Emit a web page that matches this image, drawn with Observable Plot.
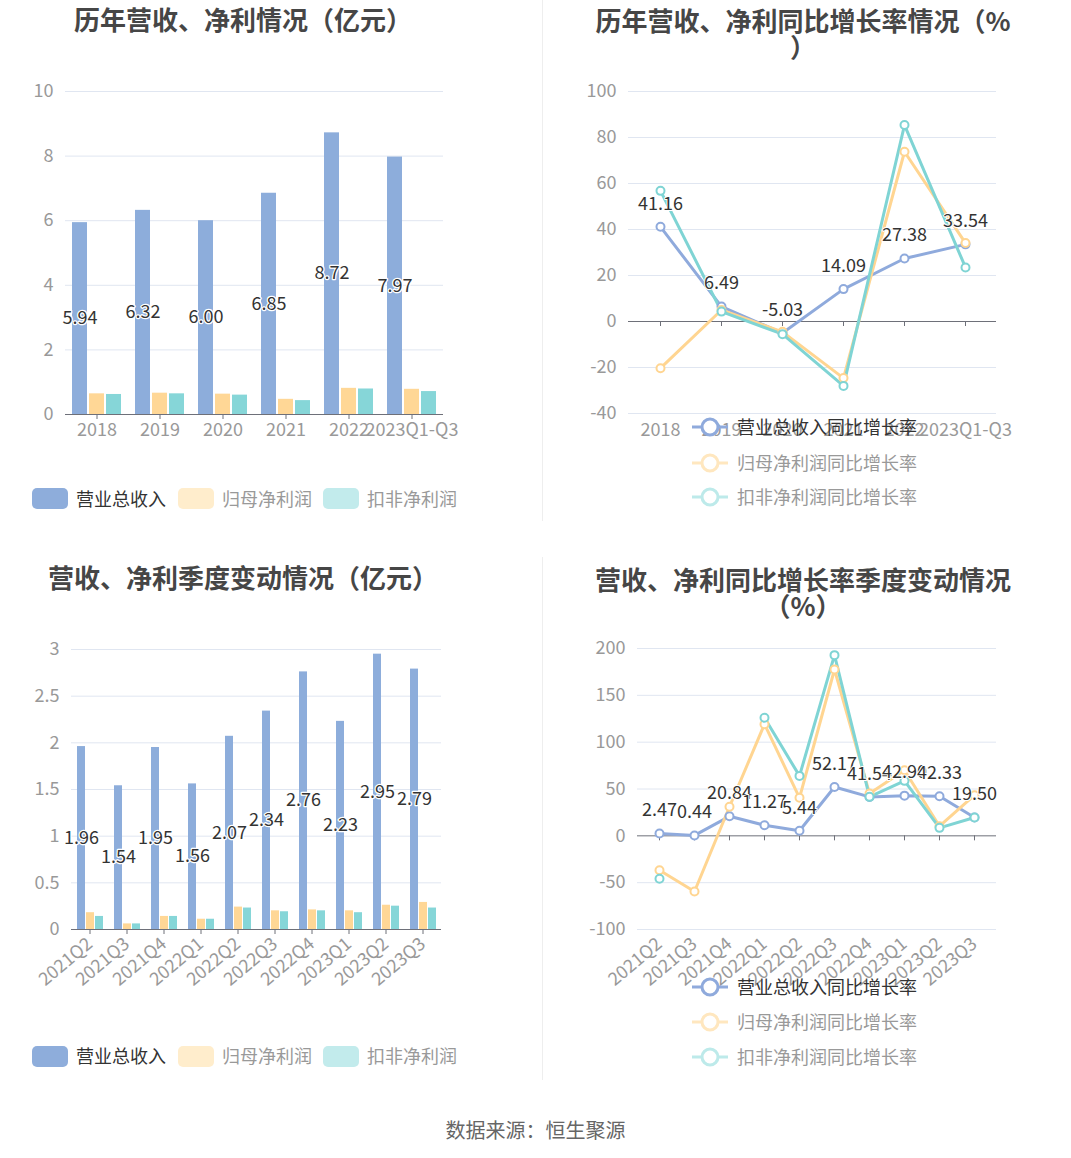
<!DOCTYPE html>
<html><head><meta charset="utf-8">
<script src="https://cdn.jsdelivr.net/npm/d3@7"></script>
<script src="https://cdn.jsdelivr.net/npm/@observablehq/plot@0.6"></script>
<style>
body{margin:0;background:#fff;font-family:'Noto Sans CJK SC','Noto Sans',sans-serif;}
#root{position:relative;width:1071px;height:1158px;overflow:hidden;background:#fff;}
.panel{position:absolute;}
.title{position:absolute;text-align:center;font-weight:bold;font-size:26px;color:#464646;line-height:26px;white-space:nowrap;}
.sep{position:absolute;width:1px;background:#eeeeee;}
.lg{position:absolute;font-size:18px;line-height:20px;white-space:nowrap;}
.foot{position:absolute;left:0;width:1071px;text-align:center;top:1115px;font-size:20px;color:#666;}
</style></head><body><div id="root"></div>
<script>
// ---------- data ----------
const years = ["2018", "2019", "2020", "2021", "2022", "2023Q1-Q3"];
const yearRevenue = [5.94, 6.32, 6.00, 6.85, 8.72, 7.97];
const yearNetProfit = [0.64, 0.66, 0.63, 0.47, 0.81, 0.78];
const yearDeductedProfit = [0.62, 0.64, 0.60, 0.43, 0.79, 0.71];
const yearRevenueGrowth = [41.16, 6.49, -5.03, 14.09, 27.38, 33.54];
const yearNetProfitGrowth = [-20.3, 5.0, -4.5, -24.6, 73.8, 34.1];
const yearDeductedGrowth = [56.8, 4.3, -5.5, -28.0, 85.4, 23.5];

const quarters = ["2021Q2", "2021Q3", "2021Q4", "2022Q1", "2022Q2", "2022Q3", "2022Q4", "2023Q1", "2023Q2", "2023Q3"];
const qRevenue = [1.96, 1.54, 1.95, 1.56, 2.07, 2.34, 2.76, 2.23, 2.95, 2.79];
const qNetProfit = [0.18, 0.06, 0.14, 0.11, 0.24, 0.20, 0.21, 0.20, 0.26, 0.29];
const qDeductedProfit = [0.14, 0.06, 0.14, 0.11, 0.23, 0.19, 0.20, 0.18, 0.25, 0.23];
const qRevenueGrowth = [2.47, 0.44, 20.84, 11.27, 5.44, 52.17, 41.54, 42.90, 42.33, 19.50];
const qNetProfitGrowth = [-36.7, -59.4, 31.0, 119.2, 40.6, 177.6, 45.2, 70.1, 10.3, 43.4];
const qDeductedGrowth = [-45.9, null, null, 126.0, 64.0, 192.9, 41.6, 58.7, 8.5, 19.6];

const barSeries = ["营业总收入", "归母净利润", "扣非净利润"];
const lineSeries = ["营业总收入同比增长率", "归母净利润同比增长率", "扣非净利润同比增长率"];
const yearTicks = [0, 2, 4, 6, 8, 10];
const yearGrowthTicks = [-40, -20, 0, 20, 40, 60, 80, 100];
const qTicks = [0, 0.5, 1, 1.5, 2, 2.5, 3];
const qGrowthTicks = [-100, -50, 0, 50, 100, 150, 200];

const titles = ["历年营收、净利情况（亿元）", ["历年营收、净利同比增长率情况（%", "）"],
  "营收、净利季度变动情况（亿元）", ["营收、净利同比增长率季度变动情况", "（%）"]];
const source = "数据来源：恒生聚源";

// ---------- style ----------
const barColors = ["#8DADDB", "#FFD796", "#86D6D8"];
const lineColors = ["#8FAADC", "#FFD591", "#7FD4D4"];
const legendRectColors = ["#8EADDB", "#FFEDCC", "#C2EBEC"];
const legendLineColors = ["#8FAADC", "#FFE7BF", "#BDEAEA"];
const legendTextColors = ["#333", "#999", "#999"];
const FONT = "'Noto Sans CJK SC','Noto Sans',sans-serif";
const root = document.getElementById("root");

function place(el, left, top) {
  el.style.position = "absolute"; el.style.left = left + "px"; el.style.top = top + "px";
  root.appendChild(el);
}

function barPanel(o) {
  const data = o.cats.flatMap((c, i) => [
    {c, s: barSeries[0], v: o.a[i]}, {c, s: barSeries[1], v: o.b[i]}, {c, s: barSeries[2], v: o.c[i]}]);
  return Plot.plot({
    width: 540, height: 400,
    marginLeft: o.ml, marginRight: o.mr, marginTop: o.mt, marginBottom: o.mb,
    style: {fontFamily: FONT, fontSize: "18px", background: "transparent", overflow: "visible"},
    fx: {domain: o.cats, padding: 0, axis: null, label: null},
    x: {domain: barSeries, paddingInner: o.pIn, paddingOuter: o.pOut, axis: null},
    y: {domain: [o.ticks[0], o.ticks[o.ticks.length - 1]], axis: null},
    color: {domain: barSeries, range: barColors},
    marks: [
      Plot.ruleY(o.ticks.filter(t => t !== 0), {stroke: "#E0E6F1"}),
      Plot.barY(data, {fx: "c", x: "s", y: "v", fill: "s"}),
      Plot.ruleY([0], {stroke: "#6E7079"}),
      Plot.axisY({ticks: o.ticks, tickSize: 0, tickPadding: 12, tickFormat: d => String(d), color: "#999", fontSize: 18, label: null}),
      Plot.axisFx({anchor: "bottom", tickSize: 5, color: "#6E7079", tickFormat: () => "", label: null}),
      Plot.axisFx({anchor: "bottom", tickSize: 0, tickPadding: o.rotate ? 12 : 9, tickRotate: o.rotate || 0, color: "#999", fontSize: 18, label: null}),
      Plot.text(data.filter(d => d.s === barSeries[0]), {
        fx: "c", x: "s", y: d => d.v / 2, text: d => d.v.toFixed(2),
        fill: "#333", stroke: "white", strokeWidth: 2.5, fontSize: 18
      })
    ]
  });
}

function linePanel(o) {
  const series = [o.a, o.b, o.c];
  const marks = [
    Plot.ruleY(o.ticks.filter(t => t !== 0), {stroke: "#E0E6F1"}),
    Plot.ruleY([0], {stroke: "#6E7079"}),
    Plot.ruleX(o.cats, {x: d => d, y1: 0, y2: 0, insetBottom: -5, stroke: "#6E7079"}),
    Plot.axisY({ticks: o.ticks, tickSize: 0, tickPadding: 12, tickFormat: d => String(d), color: "#999", fontSize: 18, label: null}),
    Plot.axisX({anchor: "bottom", tickSize: 0, tickPadding: o.rotate ? 12 : 10, tickRotate: o.rotate || 0, color: "#999", fontSize: 18, label: null})
  ];
  series.forEach((s, k) => {
    marks.push(Plot.line(s, {x: (d, i) => o.cats[i], y: d => d, stroke: lineColors[k], strokeWidth: 3}));
  });
  series.forEach((s, k) => {
    marks.push(Plot.dot(s, {x: (d, i) => o.cats[i], y: d => d, r: 4, fill: "white", stroke: lineColors[k], strokeWidth: 2}));
  });
  marks.push(Plot.text(o.a, {x: (d, i) => o.cats[i], y: d => d, dy: -23, text: d => d.toFixed(2),
    fill: "#333", stroke: "white", strokeWidth: 2, fontSize: 18}));
  return Plot.plot({
    width: 531, height: 400,
    marginLeft: o.ml, marginRight: o.mr, marginTop: o.mt, marginBottom: o.mb,
    style: {fontFamily: FONT, fontSize: "18px", background: "transparent", overflow: "visible"},
    x: {type: "point", domain: o.cats, padding: 0.5, axis: null},
    y: {domain: [o.ticks[0], o.ticks[o.ticks.length - 1]], axis: null},
    marks
  });
}

function rectLegend(cy, xs) {
  barSeries.forEach((name, k) => {
    const sw = document.createElement("div");
    sw.style.cssText = `width:36px;height:21px;border-radius:5px;background:${legendRectColors[k]}`;
    place(sw, xs[k], cy - 10.5);
    const t = document.createElement("div");
    t.className = "lg"; t.textContent = name; t.style.color = legendTextColors[k];
    place(t, xs[k] + 44, cy - 11);
  });
}
function lineLegend(x, cys) {
  lineSeries.forEach((name, k) => {
    const ns = "http://www.w3.org/2000/svg";
    const svg = document.createElementNS(ns, "svg");
    svg.setAttribute("width", 40); svg.setAttribute("height", 24);
    const l = document.createElementNS(ns, "line");
    l.setAttribute("x1", 2); l.setAttribute("x2", 38); l.setAttribute("y1", 12); l.setAttribute("y2", 12);
    l.setAttribute("stroke", legendLineColors[k]); l.setAttribute("stroke-width", 3);
    const c = document.createElementNS(ns, "circle");
    c.setAttribute("cx", 20); c.setAttribute("cy", 12); c.setAttribute("r", 8);
    c.setAttribute("fill", "white"); c.setAttribute("stroke", legendLineColors[k]); c.setAttribute("stroke-width", 3);
    svg.appendChild(l); svg.appendChild(c);
    place(svg, x - 2, cys[k] - 12);
    const t = document.createElement("div");
    t.className = "lg"; t.textContent = name; t.style.color = legendTextColors[k];
    place(t, x + 45, cys[k] - 11);
  });
}
function title(lines, centerX, top) {
  const d = document.createElement("div");
  d.className = "title";
  d.style.width = "480px";
  (Array.isArray(lines) ? lines : [lines]).forEach((s, i) => {
    const ln = document.createElement("div"); ln.textContent = s; d.appendChild(ln);
  });
  place(d, centerX - 240, top);
}

// separators
[[0, 521], [557, 1080]].forEach(([a, b]) => {
  const s = document.createElement("div"); s.className = "sep";
  s.style.height = (b - a) + "px"; place(s, 542, a);
});

// panel 1
place(barPanel({cats: years, a: yearRevenue, b: yearNetProfit, c: yearDeductedProfit, ticks: yearTicks,
  ml: 65, mr: 97, mt: 31, mb: 46, pIn: 0.12, pOut: 0.41}), 0, 60);
// panel 2
place(linePanel({cats: years, a: yearRevenueGrowth, b: yearNetProfitGrowth, c: yearDeductedGrowth, ticks: yearGrowthTicks,
  ml: 88, mr: 75, mt: 31, mb: 47}), 540, 60);
// panel 3
place(barPanel({cats: quarters, a: qRevenue, b: qNetProfit, c: qDeductedProfit, ticks: qTicks,
  ml: 69, mr: 97, mt: 29, mb: 91, pIn: 0.15, pOut: 0.445, rotate: -40}), 0, 620);
// panel 4
place(linePanel({cats: quarters, a: qRevenueGrowth, b: qNetProfitGrowth, c: qDeductedGrowth, ticks: qGrowthTicks,
  ml: 97, mr: 75, mt: 28, mb: 91, rotate: -40}), 540, 620);

// titles
title(titles[0], 243, 6);
title(titles[1], 803, 7);
title(titles[2], 243, 564);
title(titles[3], 803, 566);

// legends
rectLegend(498.5, [32, 178, 323]);
lineLegend(692, [427, 463, 497]);
rectLegend(1056, [32, 178, 323]);
lineLegend(692, [987, 1022, 1057]);

const f = document.createElement("div"); f.className = "foot"; f.textContent = source; root.appendChild(f);
</script></body></html>
